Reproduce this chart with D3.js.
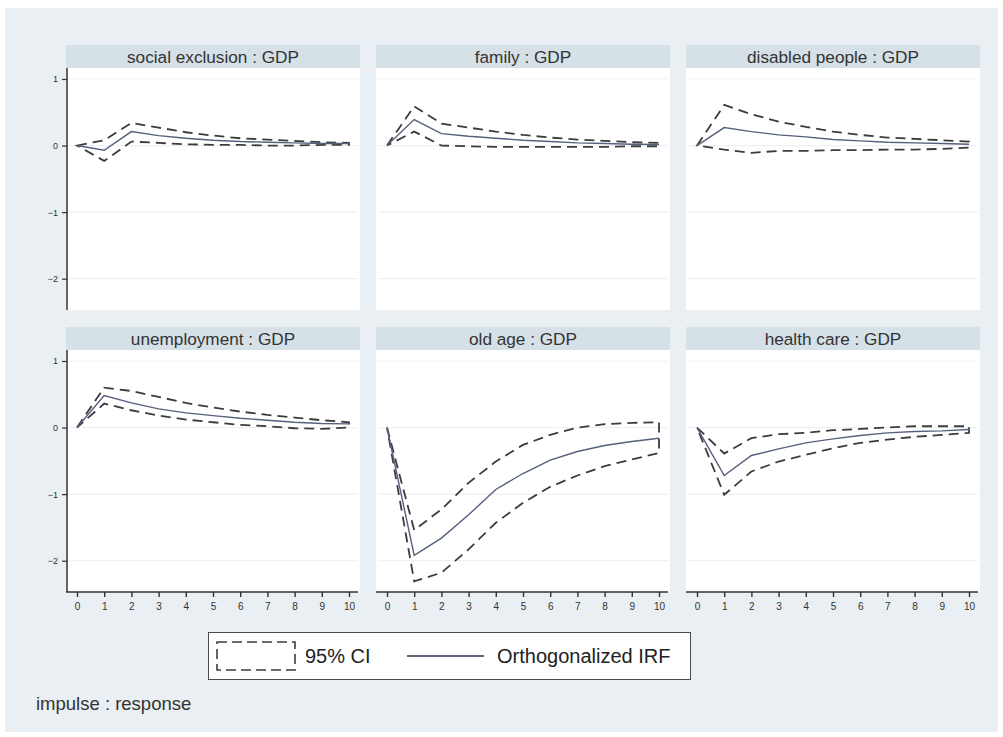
<!DOCTYPE html>
<html>
<head>
<meta charset="utf-8">
<script src="https://cdn.jsdelivr.net/npm/d3@7"></script>
<style>
  html, body { margin: 0; padding: 0; background: #ffffff; }
  svg { display: block; }
  text { font-family: "Liberation Sans", Arial, sans-serif; }
</style>
</head>
<body>
<svg id="chart" width="1003" height="737"></svg>
<script>
// Horizon steps
const steps = [0, 1, 2, 3, 4, 5, 6, 7, 8, 9, 10];

// Panel titles (impulse : response), row by row
const panelTitles = [
  "social exclusion : GDP", "family : GDP", "disabled people : GDP",
  "unemployment : GDP", "old age : GDP", "health care : GDP"
];

// Y-axis ticks and x-axis ticks
const yTicks = [1, 0, -1, -2];
const xTicks = [0, 1, 2, 3, 4, 5, 6, 7, 8, 9, 10];

// Orthogonalized IRF and 95% CI bounds for each impulse
const socialIrf = [0, -0.07, 0.21, 0.15, 0.11, 0.08, 0.06, 0.05, 0.04, 0.03, 0.03];
const socialLo  = [0, -0.23, 0.06, 0.04, 0.02, 0.01, 0.01, 0.00, 0.00, 0.01, 0.01];
const socialHi  = [0, 0.08, 0.34, 0.27, 0.20, 0.15, 0.11, 0.09, 0.07, 0.05, 0.04];

const familyIrf = [0, 0.39, 0.18, 0.14, 0.11, 0.08, 0.06, 0.04, 0.03, 0.02, 0.015];
const familyLo  = [0, 0.21, 0.00, -0.01, -0.02, -0.02, -0.02, -0.02, -0.02, -0.01, -0.01];
const familyHi  = [0, 0.59, 0.33, 0.27, 0.21, 0.16, 0.12, 0.09, 0.07, 0.05, 0.04];

const disabledIrf = [0, 0.27, 0.21, 0.16, 0.13, 0.09, 0.07, 0.05, 0.04, 0.03, 0.02];
const disabledLo  = [0, -0.06, -0.11, -0.08, -0.08, -0.07, -0.07, -0.06, -0.06, -0.05, -0.03];
const disabledHi  = [0, 0.61, 0.47, 0.36, 0.28, 0.21, 0.16, 0.12, 0.10, 0.08, 0.06];

const unemployIrf = [0, 0.48, 0.37, 0.28, 0.22, 0.18, 0.14, 0.11, 0.08, 0.06, 0.055];
const unemployLo  = [0, 0.36, 0.26, 0.18, 0.12, 0.08, 0.04, 0.02, -0.01, -0.02, 0.00];
const unemployHi  = [0, 0.60, 0.55, 0.46, 0.37, 0.30, 0.24, 0.19, 0.15, 0.11, 0.08];

const oldAgeIrf = [0, -1.92, -1.66, -1.31, -0.93, -0.69, -0.49, -0.36, -0.27, -0.21, -0.16];
const oldAgeLo  = [0, -2.31, -2.18, -1.83, -1.43, -1.13, -0.89, -0.72, -0.58, -0.48, -0.38];
const oldAgeHi  = [0, -1.54, -1.23, -0.83, -0.51, -0.26, -0.11, 0.00, 0.05, 0.07, 0.08];

const healthIrf = [0, -0.72, -0.42, -0.32, -0.23, -0.17, -0.12, -0.08, -0.06, -0.05, -0.03];
const healthLo  = [0, -1.01, -0.66, -0.51, -0.41, -0.31, -0.23, -0.18, -0.14, -0.11, -0.08];
const healthHi  = [0, -0.39, -0.16, -0.10, -0.08, -0.04, -0.02, 0.00, 0.02, 0.02, 0.02];

const irfSeries = [socialIrf, familyIrf, disabledIrf, unemployIrf, oldAgeIrf, healthIrf];
const loSeries  = [socialLo, familyLo, disabledLo, unemployLo, oldAgeLo, healthLo];
const hiSeries  = [socialHi, familyHi, disabledHi, unemployHi, oldAgeHi, healthHi];

// ---- layout ----
const W = 1003, H = 737;
const colLeft = [66, 376, 686];
const panelW = 294;
const rowTop = [45, 327];
const headerH = 23;
const plotH = 242;

const COLORS = {
  page: "#e9eff2",
  header: "#d5e0e7",
  grid: "#edf1f4",
  axis: "#333333",
  text: "#333333",
  ci: "#3c3c3c",
  irf: "#56607e"
};

const svg = d3.select("#chart");

// page background
svg.append("rect").attr("x", 0).attr("y", 0).attr("width", W).attr("height", H).attr("fill", "#ffffff");
svg.append("rect").attr("x", 5).attr("y", 8).attr("width", 993).attr("height", 724).attr("fill", COLORS.page);

const yScale0 = d3.scaleLinear().domain([-2.47, 1.165]);

panelTitles.forEach((title, i) => {
  const row = Math.floor(i / 3), col = i % 3;
  const px = colLeft[col], py = rowTop[row];
  const plotTop = py + headerH, plotBot = plotTop + plotH;

  const x = d3.scaleLinear().domain([0, 10]).range([px + 11, px + panelW - 11]);
  const y = yScale0.copy().range([plotBot, plotTop]);

  const g = svg.append("g");

  // header strip
  g.append("rect").attr("x", px).attr("y", py).attr("width", panelW).attr("height", headerH)
    .attr("fill", COLORS.header);
  g.append("text").attr("x", px + panelW / 2).attr("y", py + 17.5)
    .attr("text-anchor", "middle").attr("font-size", 17.2).attr("fill", COLORS.text)
    .text(title);

  // plot region
  g.append("rect").attr("x", px).attr("y", plotTop).attr("width", panelW).attr("height", plotH)
    .attr("fill", "#ffffff");

  // gridlines
  g.selectAll("line.grid").data(yTicks).join("line")
    .attr("class", "grid")
    .attr("x1", px + 2).attr("x2", px + panelW - 2)
    .attr("y1", d => y(d)).attr("y2", d => y(d))
    .attr("stroke", COLORS.grid).attr("stroke-width", 1.2);

  // confidence band outline (upper path forward, lower path back)
  const hi = hiSeries[i], lo = loSeries[i], irf = irfSeries[i];
  const ring = steps.map((t, k) => [t, hi[k]]).concat(steps.slice().reverse().map(t => [t, lo[t]]));
  const ringLine = d3.line().x(d => x(d[0])).y(d => y(d[1]));
  g.append("path").attr("d", ringLine(ring) + "Z")
    .attr("fill", "none").attr("stroke", COLORS.ci).attr("stroke-width", 1.8)
    .attr("stroke-dasharray", "10,6");

  // IRF line
  const irfLine = d3.line().x((d, k) => x(steps[k])).y(d => y(d));
  g.append("path").attr("d", irfLine(irf))
    .attr("fill", "none").attr("stroke", COLORS.irf).attr("stroke-width", 1.4);

  // y axis on left column
  if (col === 0) {
    const ax = d3.axisLeft(y).tickValues(yTicks).tickSize(5).tickPadding(4).tickFormat(d3.format("d"));
    const ga = g.append("g").attr("transform", `translate(${px + 1},0)`).call(ax);
    ga.select(".domain").attr("stroke", COLORS.axis).attr("stroke-width", 1.5)
      .attr("d", `M0,${plotTop}V${plotBot}`);
    ga.selectAll(".tick line").attr("stroke", COLORS.axis).attr("stroke-width", 1.2);
    ga.selectAll(".tick text").attr("font-size", 9).attr("fill", COLORS.text)
      .attr("font-family", "'Liberation Sans', Arial, sans-serif");
  }

  // x axis on bottom row
  if (row === 1) {
    const ax = d3.axisBottom(x).tickValues(xTicks).tickSize(5).tickPadding(6).tickFormat(d3.format("d"));
    const ga = g.append("g").attr("transform", `translate(0,${plotBot})`).call(ax);
    ga.select(".domain").attr("stroke", COLORS.axis).attr("stroke-width", 1.5)
      .attr("d", `M${px},0H${px + panelW - 2}`);
    ga.selectAll(".tick line").attr("stroke", COLORS.axis).attr("stroke-width", 1.4);
    ga.selectAll(".tick text").attr("font-size", 10).attr("fill", COLORS.text)
      .attr("font-family", "'Liberation Sans', Arial, sans-serif");
  }
});

// ---- legend ----
const leg = svg.append("g");
leg.append("rect").attr("x", 208.5).attr("y", 632.5).attr("width", 482).attr("height", 47)
  .attr("fill", "#ffffff").attr("stroke", "#4a4a4a").attr("stroke-width", 1);
leg.append("rect").attr("x", 217).attr("y", 642).attr("width", 78).attr("height", 28)
  .attr("fill", "none").attr("stroke", COLORS.ci).attr("stroke-width", 1.6)
  .attr("stroke-dasharray", "10,5");
leg.append("text").attr("x", 305).attr("y", 663).attr("font-size", 20).attr("fill", "#222")
  .text("95% CI");
leg.append("line").attr("x1", 407).attr("x2", 484).attr("y1", 656).attr("y2", 656)
  .attr("stroke", "#2a3350").attr("stroke-width", 1.4);
leg.append("text").attr("x", 497).attr("y", 663).attr("font-size", 20).attr("fill", "#222")
  .text("Orthogonalized IRF");

// note
svg.append("text").attr("x", 36).attr("y", 710).attr("font-size", 18.5).attr("fill", "#333")
  .text("impulse : response");
</script>
</body>
</html>
